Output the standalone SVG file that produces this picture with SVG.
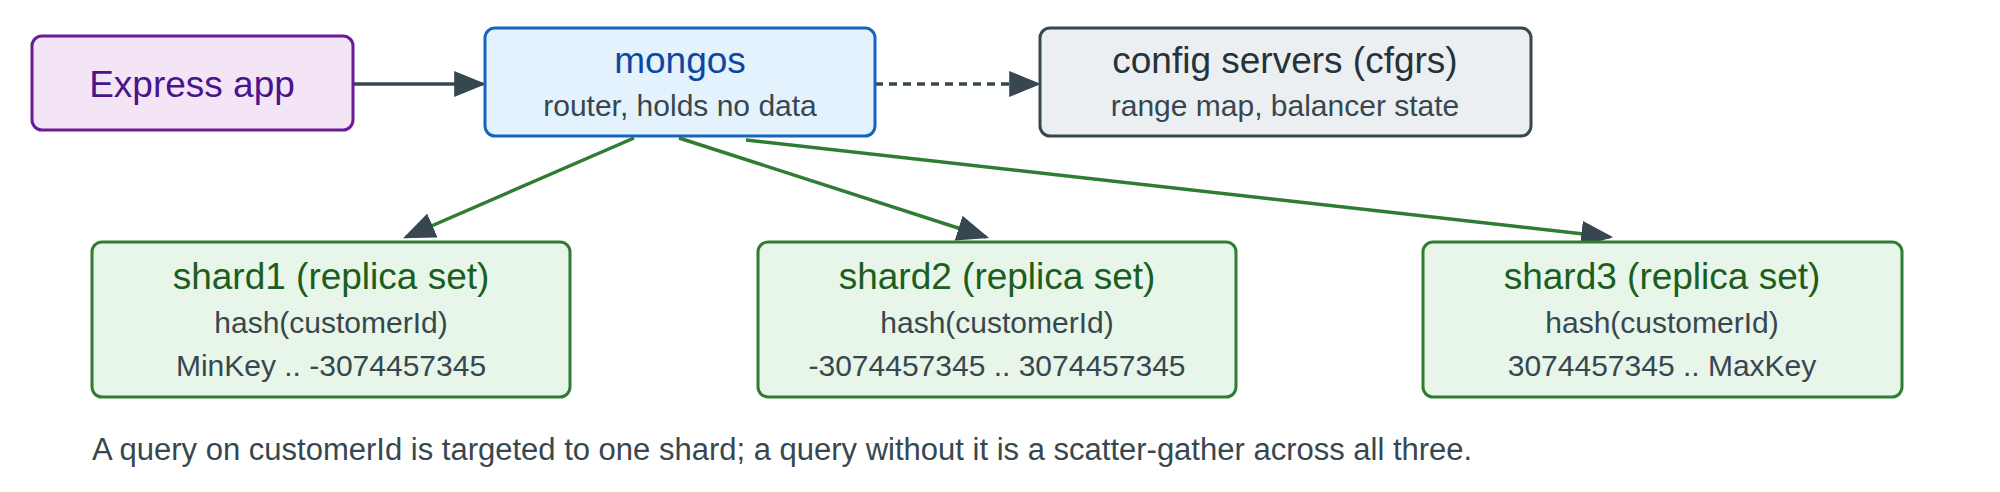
<svg xmlns="http://www.w3.org/2000/svg" width="2000" height="492" viewBox="0 0 2000 492">
<style>
text{font-family:"Liberation Sans",Arial,sans-serif;text-anchor:middle}
.t{font-size:37px}.s{font-size:30px;fill:#37474f}
.g rect{fill:#e8f5e9;stroke:#2e7d32;stroke-width:3}
.g .t{fill:#1b5e20}
</style>
<defs>
<marker id="a" viewBox="0 0 10 10" refX="9" refY="5" markerWidth="32" markerHeight="26" markerUnits="userSpaceOnUse" orient="auto" preserveAspectRatio="none"><path d="M0,0L10,5L0,10z" fill="#37474f"/></marker>
</defs>
<rect width="2000" height="492" fill="#fff"/>
<g id="connectors" fill="none">
<line x1="353" y1="84" x2="483" y2="84" stroke="#37474f" stroke-width="3.5" marker-end="url(#a)"/>
<line x1="875" y1="84" x2="1038" y2="84" stroke="#37474f" stroke-width="3.5" stroke-dasharray="8,6" marker-end="url(#a)"/>
<line x1="634" y1="138" x2="406" y2="237" stroke="#2e7d32" stroke-width="3.5" marker-end="url(#a)"/>
<line x1="679" y1="138" x2="986" y2="237" stroke="#2e7d32" stroke-width="3.5" marker-end="url(#a)"/>
<line x1="746" y1="140" x2="1610" y2="237" stroke="#2e7d32" stroke-width="3.5" marker-end="url(#a)"/>
</g>
<g id="express"><rect x="32" y="36" width="321" height="94" rx="10" fill="#f3e5f5" stroke="#6a1b9a" stroke-width="3"/><text class="t" x="192" y="97" fill="#4a148c">Express app</text></g>
<g id="mongos"><rect x="485" y="28" width="390" height="108" rx="10" fill="#e3f2fd" stroke="#1565c0" stroke-width="3"/><text class="t" x="680" y="73" fill="#0d47a1">mongos</text><text class="s" x="680" y="116">router, holds no data</text></g>
<g id="config"><rect x="1040" y="28" width="491" height="108" rx="10" fill="#eceff1" stroke="#37474f" stroke-width="3"/><text class="t" x="1285" y="73" fill="#263238">config servers (cfgrs)</text><text class="s" x="1285" y="116">range map, balancer state</text></g>
<g id="shard1" class="g"><rect x="92" y="242" width="478" height="155" rx="10"/><text class="t" x="331" y="289">shard1 (replica set)</text><text class="s" x="331" y="333">hash(customerId)</text><text class="s" x="331" y="376">MinKey .. -3074457345</text></g>
<g id="shard2" class="g"><rect x="758" y="242" width="478" height="155" rx="10"/><text class="t" x="997" y="289">shard2 (replica set)</text><text class="s" x="997" y="333">hash(customerId)</text><text class="s" x="997" y="376">-3074457345 .. 3074457345</text></g>
<g id="shard3" class="g"><rect x="1423" y="242" width="479" height="155" rx="10"/><text class="t" x="1662" y="289">shard3 (replica set)</text><text class="s" x="1662" y="333">hash(customerId)</text><text class="s" x="1662" y="376">3074457345 .. MaxKey</text></g>
<text x="92" y="460" style="text-anchor:start;font-size:31px" fill="#37474f">A query on customerId is targeted to one shard; a query without it is a scatter-gather across all three.</text>
</svg>
